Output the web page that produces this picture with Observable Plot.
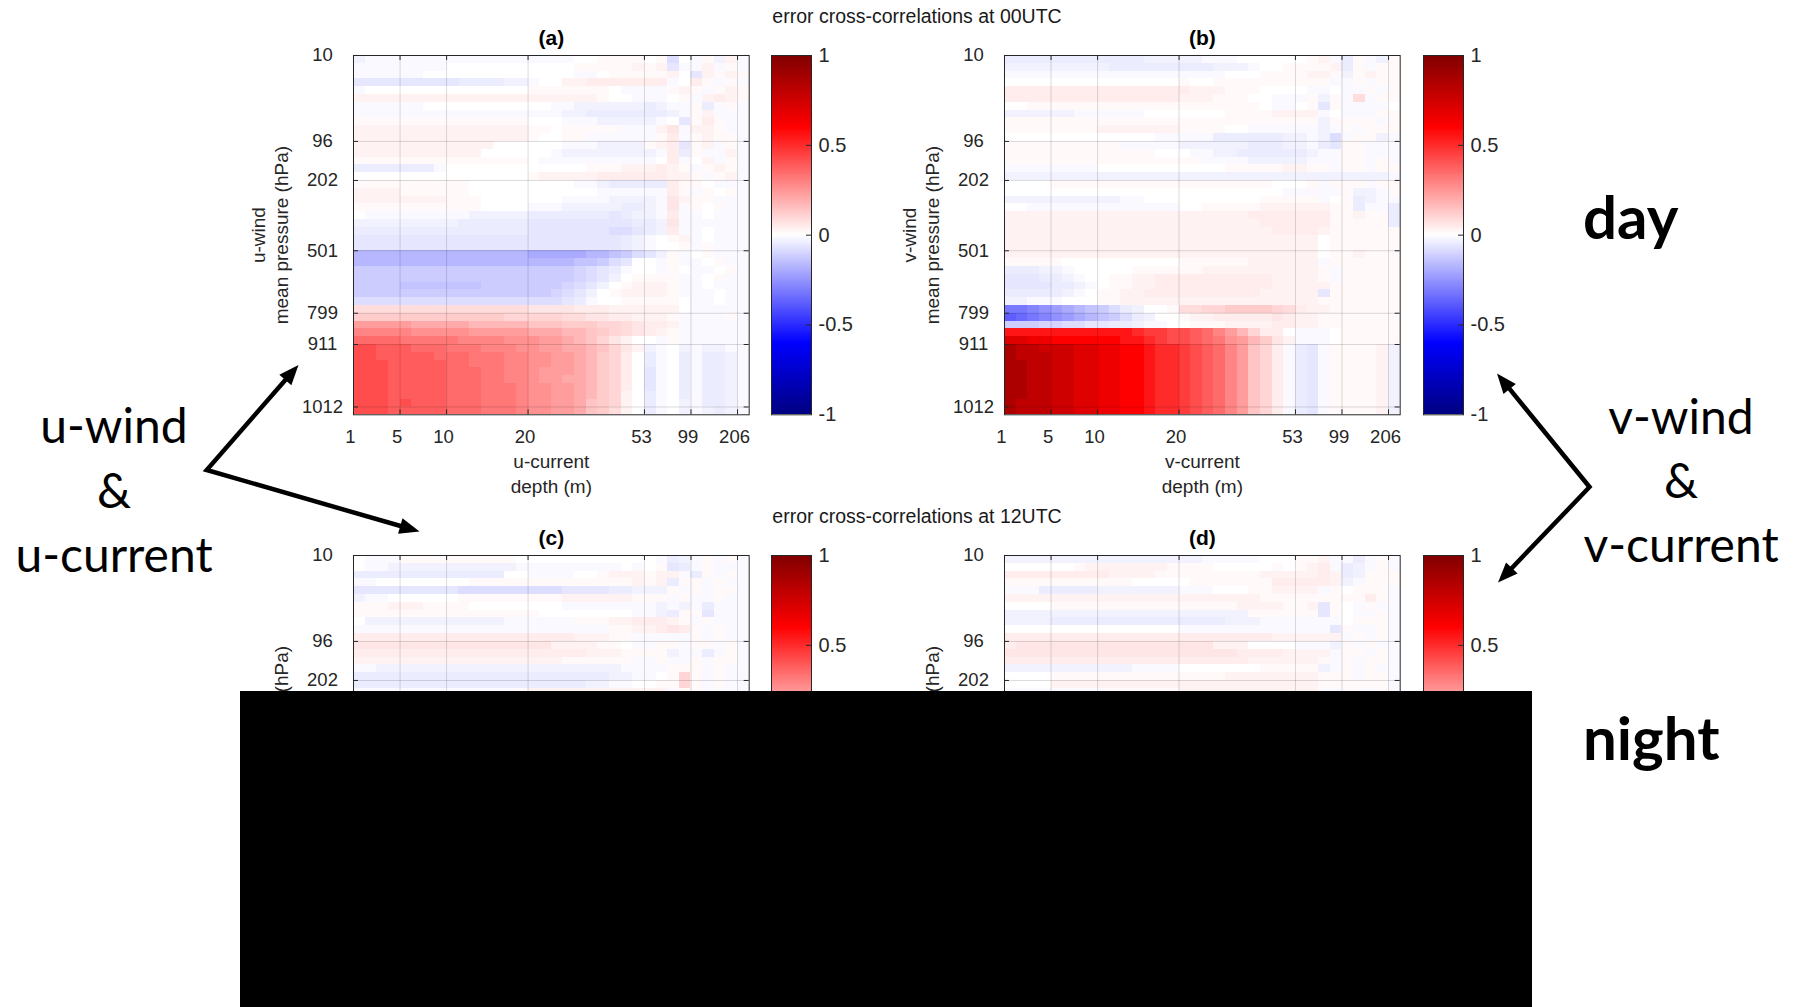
<!DOCTYPE html>
<html><head><meta charset="utf-8">
<script src="https://cdn.jsdelivr.net/npm/d3@7"></script>
<script src="https://cdn.jsdelivr.net/npm/@observablehq/plot@0.6"></script>
<style>
html,body{margin:0;padding:0;background:#fff;}
#page{position:relative;width:1799px;height:1007px;overflow:hidden;background:#fff;}
#page > svg{position:absolute;}
.mask{position:absolute;background:#000;}
</style></head><body><div id="page"></div>
<script>
// ---------------- data ----------------
const depthTickIndex = [0, 4, 8, 15, 25, 29, 33];
const depthTickLabels = ["1", "5", "10", "20", "53", "99", "206"];
const pressureTickIndex = [0, 11, 16, 25, 33, 37, 45];
const pressureTickLabels = ["10", "96", "202", "501", "799", "911", "1012"];
const nDepth = 34, nLevel = 46;
// one character per cell: "0" = 0, lower case = positive, upper case = negative
const levelCodes = "abcdefghijklmnopqrstuvwxyz";
const levelValues = [0.015,0.03,0.045,0.06,0.08,0.10,0.12,0.14,0.17,0.20,0.23,0.26,0.29,0.32,0.35,0.38,0.42,0.46,0.50,0.55,0.60,0.65,0.70,0.75,0.80,0.86];
const colorDomain = [-1, -0.6, 0, 0.6, 1];
const colorRange = ["#000080", "#0000ff", "#ffffff", "#ff0000", "#800000"];
const colorbarTicks = [-1, -0.5, 0, 0.5, 1];

// panel (a): u-wind vs u-current, 00UTC (rows = pressure levels top->bottom)
const panelA = [
"BAAA AAAA AAAAAAA AAAA00aaaa 0aE0 AaBb A",
"AAAA AAAA 0000000 0000aaaaab abDA AbAa A",
"AAAA AA00 0000000 0000AA0aaa aab0 Dbab a",
"DDDD DDDD DCCCCBB A00bbccccc ccA0 caAa A",
"A000 0000 0000000 aaaaaaa0AA AAab aAab a",
"bbbb bbbb bbbbbbb bbbbbba00A AA0a Abcb a",
"AAAA AA00 0000000 00AABBBBBB CBAA aCAa A",
"AAAA AAAA AAAAAAA AAABBCCCCC CCBA abAA A",
"aaaa aaaa aaaaaaa 000AAABBBB BA0D acaA A",
"bbbb bbbb bbbbbbb aa0aaaaaAA AbdA bbaA A",
"bbbb bbbb bbbbbbb a00aaAAAAA AacA abaa A",
"bbbb bbbb bbbb000 000AAABBBB abcD abAa A",
"bbbb bbbb bbb0000 00ABBBBBBB BAcC aAAb A",
"aaaa aaaa aaaaaaa 0AAAAAAAAA A0cA 0bAa A",
"CCCC CCCA 0000000 00000aaabb bcba Aaba A",
"0000 0000 0000000 abbbbbcccc ccbb aAab A",
"aaaa aaaa aa00000 0000AABCCC CCca a0AA A",
"bbbb aaaa aa00000 000000AAAA AAca Aa0a A",
"bbbb bbbb aaa0000 000AAAABBB BAdb aaAA A",
"aaaa aaaa aaa0000 AAABBBBBCC BAdA a0aA A",
"0AAA AAAA AABBBBB CCCCCCCDCB BAcA A0AA A",
"BBBB BBBB BCCCCCC DDDDDDDDDC CBdA AAAA A",
"CCCC CCCC CCCCCCC DDDDDDDEED CBcA A0AA A",
"DDDD DDDD DDDDDDD DDDDDDDDCB A0ab A0AA A",
"DDDD DDDD DDDDDDD DDDDDDDDCB A00a AaAA A",
"IIII IIII IIIIIII JJJJJIIHGE DBaA 0aAA A",
"IIII IIII IIIIIII IIIIHHGED0 0AaA A0aA A",
"GGGG GGGG GGGGGGG GGGGFEDCA0 0Aa0 AA0a A",
"GGGG GGGG GGGGGGG GGGGFEDB0a aaaA A0aA A",
"GGGG HHHH HHHGGGG GGGFEDB0ab bbaA A0AA A",
"GGGG GGGG GGGGGGG GGFEDB0abb bbaA AA0A A",
"EEEE EEEE EEEEEEE EEEDCA00aa aaa0 AA0A A",
"eeee eeee eeeeeee ddddcccbbb bbb0 AAAA A",
"gggg gggg gggggff fffeeddccb bbaA AAAa A",
"kkkk kjjj jjiiiii hhhgggffed ccbA AAAA A",
"mmmm mlll llkkkkk jjjiihgfed cbaA AAAA A",
"oooo nnnn nmmmmll lkkjihfdb0 0AaA AAAA A",
"qqpp pooo nnnmmml lkkjjihfdb BA0B ABBA A",
"qqpp pppo oonnnmm llkkjigfc0 CA0C ACCB A",
"qqqp pppp oonnnmm llkkjigfc0 CA0C ACCB A",
"qqqp pppp ooonnmm lkkkjigfc0 DA0C ACCB A",
"qqqp pppp ooonnmm lkkjjigfc0 DA0C ACCB A",
"qqqp pppp ooonnnm llkkjigfc0 DA0C ACCB A",
"qqqp pppp ooonnnm llkkjigfb0 CA0C ACCB A",
"qqqp qppp ooonnnm llkkjhgfb0 CA0B ACCB A",
"qqqp pppp ooonnnm llkkjhgeb0 CA0B ABCB A"
];

// panel (b): v-wind vs v-current, 00UTC
const panelB = [
"CCCC CCCC CCCCBBB BBAAA00000 0abA CaAB a",
"BBBB BBBB BCCCCCC CCCBBBA00a aaab CaAa a",
"AAAA AAAA AAAAAAA AAAA000aaa abba Baba a",
"0000 0000 0000000 a00aaaaaaa aaaA AaAa a",
"cccc cccc ccccccc cbbbaaa000 0AA0 AAaA a",
"cccc cccc ccccccc bbbaaa00AA AaBa AeAa a",
"00aa aaaa aaaaaaa aaaaaaa0AA 0aDa AAAA 0",
"BBBB BBAA AAAA000 0000aaaabb bbA0 AAAa a",
"aaaa aaaa aaaaaaa aaaaaaaaaa aaBa aaaA a",
"aaaa aaaa bbbbbbb aaaa00AAAA AABA aAaa a",
"0000 0000 00000AA AAACCCCCCB BABE AaaB A",
"aaaa aaaa aaAAAAA BBBBBBCCCB BACD aaAA A",
"aaaa aaaa aaaaa00 0AABBCCCCC CBAA aaAA A",
"aaaa aaaa aaaaaaa aaAAAABBBB BAAA aaAa A",
"AAAA AAAA 0000000 0000aaaaab baaA aaAa a",
"BBBB BBBB BBBBBBB BBBBBBBBBB BBBB BBBB A",
"0000 aaaa aaaaaaa aaaaaaaa00 0aAa aaAa a",
"0000 0000 0000000 000000000A AAAA aBBA a",
"BBBB BBBB BBAA000 0000000aaa aaA0 aCBA A",
"00AA AAAA AAAAAAA 00aaaaabbb bbba aCAA C",
"bbbb bbbb bbbbbbb bbbbbbcccc ccca abaa C",
"bbbb bbbb bbbbbbb bbbbbbbccc ccca aaaa C",
"bbbb bbbb bbbbbbb bbbbbbbbcc ccba aaaa a",
"bbbb bbbb bbbbbbb bbbbbbbbbb bb0a aaaa a",
"bbbb bbbb bbbbbbb bbbbbbbbbb bb0a aaaa a",
"bbbb bbbb bbbbbbb bbbbbbbbbb bb0a abaa a",
"aaaa a000 0000000 aaaaaabbbb bbAa aaaa a",
"CCCB BA00 000aaaa aabbbbbbbb bbaA aaaa a",
"DDDC CBA0 0aabbcc ccccccccbb bbaA aaaa a",
"DDDD CCBA 0aabbcc ccccccccbb bbba aaaa a",
"CCCC CBA0 aabbccc cccccccbbb bbDa aaaa a",
"BBAA A000 aabbbbb bbbbbbbbbb bbaa aaaa a",
"NNML KJIH GECB00a eeffggggfe cbba aaaa a",
"PONM LKJI HGECB00 abbcccccdc bbaa aaaa a",
"GGGF FEED DCCBAA0 0aaabbbbcc bbaa aaaa a",
"tttt tttt tttsrrq qpomkifcc0 AAA0 aaaa a",
"wwvv uuuu uuttsrq qponlkigdb AAA0 aaaa a",
"zyyx xxww vvuutss rqpomkhfcA CDAa aaab B",
"zyyy xxww vvuutss rqpomkhfcA CDAa aaab B",
"zzyy xxww vvuutss rqpomkhfcA CDAa aaab B",
"zzyy xxww vvuutss rqpomkhfcA CDAa aaab B",
"zzyy xxww vvuutss rqpomkhfcA CDAa aaab B",
"zzyy xxww vvuutss rqpomkhfcA CDAa aaab B",
"zzyy xxww vvuutss rqpomkhfcA CDAa aaab B",
"zyyy xxww vvuutss rqpomkhfcA CDAa aaab B",
"zyyy xxww vvuutss rqpomkhfcA CDAa aaab B"
];

// panel (c): u-wind vs u-current, 12UTC (visible rows only)
const panelC = [
"0AAA aaaa aaaaaa0 0000000000 0ACB AaAa A",
"0AAB BBBB BBBBBBA AAAAAAAA0A 0aDC AaAA A",
"CCCC CCCC CCCCC00 AAAA00abbb abbA CaAa A",
"AA00 0000 00aaaaa aaaaaaaaab abCa aAaA A",
"DDDD DDDD DEEEEEE EEEDDDDCCB BBaA aAaa A",
"BAA0 0000 0aaaaaa aaabbbbbba aaAa AAaA A",
"aaab bbaa aa00000 000AAAAAAA ABAB ACAA A",
"aaaa aaaa aaaaaaa a00000000A ABCa aDAA A",
"0BBB BBBB BBBBBAA AAAAaaabbc ccba AaAA A",
"AAAA AAAA AAAAAAA AAAAAAAaab bcdc aAaA A",
"cccc cccc ccccccc ccccbbbaaA AAAA aAaA A",
"dddd dddd ddddddd ddbbbbaa0A AaaA aaAa A",
"cccc cccc ccccccc cccccbbbaa aaBA ACAa A",
"bbbb bbbb bbbbbbb bbbaaaaaaA AaAA aAaa A",
"AABB BBBB BBBBBBB BBBBBBBBAA AAaa aAaA A",
"CCCC CCCC CCCCCCC CCCCCCCBBA A0af aAaA A",
"CCCC CCCC CCCCCCC CCCCCBBAA0 0aaf aAaA A",
"AAAA AAAA AAAAAAa bbbbbbbbbb bbAa aAaA A"
];

// panel (d): v-wind vs v-current, 12UTC (visible rows only)
const panelD = [
"BBBB BBBB BBBBBBB BBAAAAA000 aabA ACAa A",
"0000 00ab bbbbbba aaa00000a0 abcA CBAa A",
"cccc cccc cbbbbaa aaaaaaabbb bbcb CBaa a",
"aaaa aaaa aaa0000 0aaaaaaacc cccb BAaa a",
"AAAC CCCC BBBBBBB AAA000aabb bbAa 0aaa A",
"bbbb bbbb bbbbbbb bbbbbbbaaa aaaa aaca A",
"0000 aaaa aaaaaaa aaaaabbbba abDa 0AaA A",
"BBBB BBBB BBBBBBB BBBBBBaaaa aaDa 0AAa A",
"BBBB CCCC CCCCCCC CCCCBBBAAA AAAA 0aaa A",
"0000 0000 0000000 AAAAAAAAAA AAAD aAAa A",
"cccc cccc ccccccc ccccccccbb bbbb AaAa A",
"cddd dddd ddddddd dddbbb0000 AAAB aAaA A",
"dddd dddd ddddddd dddddccccb bbbA aaAa A",
"cccc cccc ccccccc ccccccbbbb bbaA aAaa A",
"BBBB BBBB BBBAAAA 0000000aaa aaBA aAaA A",
"0000 aaaa aaaaaaa aaaabbbbbb bbaa aAaa A",
"0000 bbbb bbbbbbb bbbbbbbbbb bbaa aaaa A",
"AAAA AAAA Aaaaaaa bbbbbbbbbb bbAA aaAa A"
];

const panelTitles = ["(a)", "(b)", "(c)", "(d)"];
const yLabels = ["u-wind\nmean pressure (hPa)", "v-wind\nmean pressure (hPa)"];
const xLabels = ["u-current\ndepth (m)", "v-current\ndepth (m)"];
const rowTitles = ["error cross-correlations at 00UTC", "error cross-correlations at 12UTC"];

// ---------------- helpers ----------------
function decode(ch) {
  if (!ch || ch === "0") return 0;
  const i = levelCodes.indexOf(ch.toLowerCase());
  if (i < 0) return 0;
  return ch === ch.toLowerCase() ? levelValues[i] : -levelValues[i];
}
function toCells(rows) {
  const out = [];
  rows.forEach((s, r) => {
    const t = s.replace(/\s+/g, "");
    for (let c = 0; c < nDepth; c++) out.push({r, c, v: decode(t[c])});
  });
  return out;
}

const FONT = "'Liberation Sans', Arial, Helvetica, sans-serif";
const PW = 395.7, PH = 359.3;
const ML = 115, MR = 8, MT = 35, MB = 95;
const colorScale = {type: "linear", domain: colorDomain, range: colorRange};

function heatmap(rows, title, yLabel, xLabel) {
  const cells = toCells(rows);
  const tLen = 5 / (PH / nLevel), sLen = 5 / (PW / nDepth);
  const xfmt = d => depthTickLabels[depthTickIndex.indexOf(d)];
  const yfmt = d => pressureTickLabels[pressureTickIndex.indexOf(d)];
  return Plot.plot({
    width: ML + PW + MR, height: MT + PH + MB,
    marginLeft: ML, marginRight: MR, marginTop: MT, marginBottom: MB,
    style: {background: "transparent", fontFamily: FONT, fontSize: "18.5px", color: "#262626", overflow: "visible"},
    x: {type: "linear", domain: [0, nDepth], label: null},
    y: {type: "linear", domain: [nLevel, 0], label: null},
    color: colorScale,
    marks: [
      Plot.rect(cells, {x1: "c", x2: d => d.c + 1, y1: "r", y2: d => d.r + 1, fill: "v", shapeRendering: "crispEdges"}),
      Plot.ruleX(depthTickIndex.slice(1), {stroke: "#000", strokeOpacity: 0.15}),
      Plot.ruleY(pressureTickIndex.slice(1), {stroke: "#000", strokeOpacity: 0.15}),
      Plot.ruleX(depthTickIndex, {y1: 0, y2: tLen, stroke: "#262626"}),
      Plot.ruleX(depthTickIndex, {y1: nLevel - tLen, y2: nLevel, stroke: "#262626"}),
      Plot.ruleY(pressureTickIndex, {x1: 0, x2: sLen, stroke: "#262626"}),
      Plot.ruleY(pressureTickIndex, {x1: nDepth - sLen, x2: nDepth, stroke: "#262626"}),
      Plot.frame({stroke: "#262626"}),
      Plot.axisX(depthTickIndex, {anchor: "bottom", tickSize: 0, tickPadding: 15, dx: -3, tickFormat: xfmt, label: null}),
      Plot.axisY(pressureTickIndex, {anchor: "left", tickSize: 0, tickPadding: 31, textAnchor: "middle", tickFormat: yfmt, label: null}),
      Plot.text([title], {text: d => d, frameAnchor: "top", dy: -17, lineAnchor: "middle", fontWeight: "bold", fontSize: 21, fill: "#000"}),
      Plot.text([xLabel], {text: d => d, frameAnchor: "bottom", dy: 58, lineAnchor: "middle", textAnchor: "middle", fontSize: 19, lineHeight: 1.3}),
      Plot.text([yLabel], {text: d => d, frameAnchor: "left", dx: -84, rotate: -90, lineAnchor: "middle", textAnchor: "middle", fontSize: 19, lineHeight: 1.18})
    ]
  });
}

function colorbar() {
  const step = 0.005;
  const ramp = d3.range(Math.round(2 / step)).map(i => -1 + i * step);
  return Plot.plot({
    width: 1 + 40 + 60, height: 15 + PH + 15,
    marginLeft: 1, marginRight: 60, marginTop: 15, marginBottom: 15,
    style: {background: "transparent", fontFamily: FONT, fontSize: "20px", color: "#262626", overflow: "visible"},
    x: {domain: [0, 1], axis: null},
    y: {domain: [-1, 1], label: null},
    color: colorScale,
    marks: [
      Plot.rect(ramp, {x1: 0, x2: 1, y1: d => d, y2: d => d + step, fill: d => d + step / 2, shapeRendering: "crispEdges"}),
      Plot.ruleY([-0.5, 0, 0.5], {x1: 1 - 5 / 40, x2: 1, stroke: "#262626"}),
      Plot.frame({stroke: "#262626"}),
      Plot.axisY(colorbarTicks, {anchor: "right", tickSize: 0, tickPadding: 7, tickFormat: d => String(d), label: null})
    ]
  });
}

// ---------------- layout ----------------
const page = document.getElementById("page");
function place(el, left, top) {
  el.style.position = "absolute";
  el.style.left = left + "px";
  el.style.top = top + "px";
  page.appendChild(el);
}
const panels = [
  {rows: panelA, title: panelTitles[0], k: 0, left: 352.7, top: 55, cb: 771},
  {rows: panelB, title: panelTitles[1], k: 1, left: 1003.6, top: 55, cb: 1423},
  {rows: panelC, title: panelTitles[2], k: 0, left: 352.7, top: 555, cb: 771},
  {rows: panelD, title: panelTitles[3], k: 1, left: 1003.6, top: 555, cb: 1423}
];
for (const p of panels) {
  place(heatmap(p.rows, p.title, yLabels[p.k], xLabels[p.k]), p.left - ML, p.top - MT);
  place(colorbar(), p.cb - 1, p.top - 15);
}

// black cover block (as in the reference)
const mask = document.createElement("div");
mask.className = "mask";
Object.assign(mask.style, {left: "240px", top: "691px", width: "1292px", height: "316px"});
page.appendChild(mask);

// annotation overlay
const NS = "http://www.w3.org/2000/svg";
const ov = document.createElementNS(NS, "svg");
ov.setAttribute("width", 1799); ov.setAttribute("height", 1007);
ov.style.left = "0px"; ov.style.top = "0px";
page.appendChild(ov);
function addText(str, x, y, opts) {
  const t = document.createElementNS(NS, "text");
  t.setAttribute("x", x); t.setAttribute("y", y);
  t.setAttribute("text-anchor", opts.anchor || "middle");
  t.setAttribute("font-family", opts.family);
  t.setAttribute("font-size", opts.size);
  if (opts.weight) t.setAttribute("font-weight", opts.weight);
  t.setAttribute("fill", opts.fill || "#000");
  t.textContent = str;
  ov.appendChild(t);
}
addText(rowTitles[0], 917, 22.5, {family: FONT, size: 19.5, fill: "#1a1a1a"});
addText(rowTitles[1], 917, 522.5, {family: FONT, size: 19.5, fill: "#1a1a1a"});

const ANN = "Lato, 'Open Sans', sans-serif";
const groups = [
  {x: 114, lines: ["u-wind", "&", "u-current"], base: [443, 508, 572]},
  {x: 1681, lines: ["v-wind", "&", "v-current"], base: [433.5, 498, 562]}
];
for (const g of groups) g.lines.forEach((s, i) => addText(s, g.x, g.base[i], {family: ANN, size: 48}));
addText("day", 1583, 239, {family: ANN, size: 60, weight: "bold", anchor: "start"});
addText("night", 1583, 760, {family: ANN, size: 60, weight: "bold", anchor: "start"});

function arrowPair(vx, vy, tips) {
  const hl = 20, hw = 8;
  const pts = tips.map(([x, y]) => {
    const dx = x - vx, dy = y - vy, L = Math.hypot(dx, dy), ux = dx / L, uy = dy / L;
    const bx = x - ux * hl, by = y - uy * hl;
    const head = document.createElementNS(NS, "polygon");
    head.setAttribute("points", `${x},${y} ${bx - uy * hw},${by + ux * hw} ${bx + uy * hw},${by - ux * hw}`);
    head.setAttribute("fill", "#000");
    ov.appendChild(head);
    return [bx + ux * 3, by + uy * 3];
  });
  const pl = document.createElementNS(NS, "polyline");
  pl.setAttribute("points", `${pts[0][0]},${pts[0][1]} ${vx},${vy} ${pts[1][0]},${pts[1][1]}`);
  pl.setAttribute("fill", "none");
  pl.setAttribute("stroke", "#000");
  pl.setAttribute("stroke-width", 4.5);
  pl.setAttribute("stroke-linejoin", "miter");
  ov.appendChild(pl);
}
arrowPair(206.7, 470, [[298.5, 365], [419.5, 531.5]]);
arrowPair(1589.5, 487, [[1497, 373.5], [1498, 582.5]]);
</script></body></html>
